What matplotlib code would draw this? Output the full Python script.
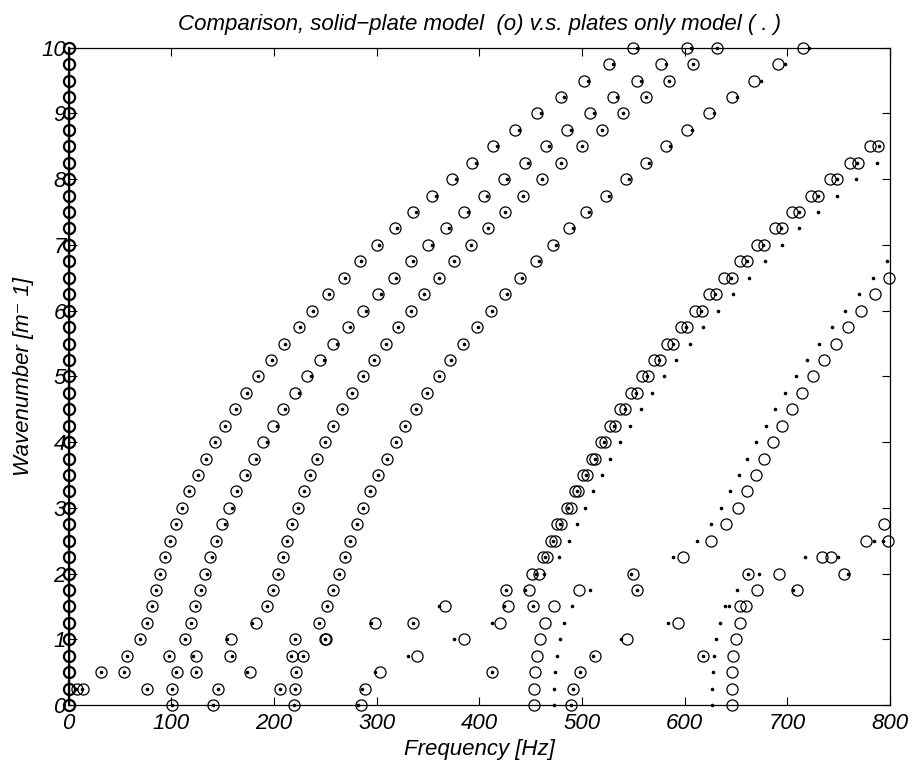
import numpy as np
import matplotlib
matplotlib.use("Agg")
import matplotlib.pyplot as plt

plt.rcParams['font.family'] = ['Liberation Sans', 'DejaVu Sans']
plt.rcParams['font.style'] = 'italic'

# wavenumber grid [1/m], 0 .. 10 in steps of 0.25
k_grid = np.linspace(0, 10, 41)
k_main = k_grid[6:]      # 1.5 .. 10
k_E = k_grid[9:35]       # 2.25 .. 8.5
k_E_out = k_grid[9:34]   # 2.25 .. 8.25
k_F = k_grid[9:27]       # 2.25 .. 6.5
k_F_dot = k_grid[9:28]   # 2.25 .. 6.75

# branch A (lowest) -- solid-plate (o) and plates-only (.)
A_circ = [81.1, 84.9, 88.8, 93.5, 98.8, 104.4, 110.5, 117.3, 125.8, 133.9,
          142.4, 152.1, 162.5, 172.9, 184.5, 197.2, 209.9, 224.2, 237.4, 253.0,
          268.3, 283.9, 300.1, 318.0, 335.8, 354.3, 373.5, 393.3, 413.7, 434.8,
          456.5, 479.3, 502.0, 526.3, 550.0]
A_dot = [81.1, 84.9, 88.8, 93.5, 98.8, 104.4, 110.5, 117.6, 126.1, 134.2,
         142.8, 152.5, 163.0, 173.4, 185.0, 197.8, 210.6, 225.0, 238.3, 254.0,
         269.4, 285.2, 301.9, 320.3, 338.6, 357.4, 377.0, 396.8, 417.6, 438.7,
         460.4, 482.8, 506.2, 530.5, 554.0]

# branch B
B_circ = [123.5, 128.1, 132.5, 137.8, 143.6, 149.5, 156.0, 163.4, 171.9, 180.3,
          189.7, 199.5, 209.2, 220.9, 232.5, 245.2, 257.9, 272.5, 286.5, 301.1,
          317.3, 333.2, 350.4, 367.5, 385.4, 404.5, 424.4, 444.5, 464.7, 485.1,
          507.8, 530.5, 553.9, 576.7, 602.0]
B_dot = [124.5, 129.5, 134.4, 139.5, 144.8, 152.0, 159.5, 164.4, 174.2, 182.6,
         193.0, 202.7, 210.8, 224.1, 235.8, 248.8, 261.1, 274.2, 289.5, 304.0,
         319.0, 335.8, 353.5, 370.8, 388.8, 408.0, 427.2, 447.8, 468.2, 489.0,
         511.7, 533.8, 557.8, 581.5, 606.0]

# branch C (both models coincide)
C_circ = [193.0, 199.0, 204.0, 208.6, 213.1, 217.9, 223.2, 229.0, 235.5, 241.7,
          250.1, 257.9, 266.6, 276.1, 286.5, 297.5, 308.9, 320.9, 333.5, 346.5,
          361.1, 375.8, 391.7, 408.8, 425.4, 442.5, 460.8, 479.3, 499.8, 519.8,
          540.0, 562.1, 584.5, 608.4, 631.8]

# branch D
D_circ = [251.7, 257.8, 263.3, 269.0, 274.1, 280.9, 287.1, 293.9, 301.7, 310.2,
          318.9, 328.0, 338.1, 348.8, 360.5, 371.6, 384.2, 397.5, 411.1, 425.4,
          439.7, 455.5, 472.1, 487.7, 503.6, 523.4, 542.6, 562.1, 582.1, 602.6,
          624.0, 645.8, 667.5, 691.2, 715.0]
D_dot = [251.7, 257.8, 263.3, 269.0, 274.1, 280.9, 287.1, 293.9, 301.7, 310.2,
         318.9, 328.0, 338.1, 348.8, 360.5, 372.3, 385.5, 399.0, 412.8, 427.4,
         442.0, 457.8, 474.6, 491.3, 507.0, 526.6, 545.8, 565.3, 585.7, 606.9,
         628.9, 651.3, 674.1, 697.7, 721.4]

# branch E (split pair of solid-plate modes)
E_circ1 = [462.5, 469.9, 476.0, 485.4, 493.5, 501.3, 509.8, 518.2, 527.3, 537.0,
           547.8, 558.5, 570.2, 582.8, 596.2, 610.1, 623.4, 638.6, 653.9, 670.2,
           688.0, 704.2, 722.7, 741.5, 761.0, 780.5]
E_circ2 = [465.7, 474.1, 479.9, 489.0, 496.2, 504.6, 513.0, 522.1, 531.9, 542.2,
           553.3, 564.3, 576.0, 589.0, 602.3, 616.9, 630.5, 645.8, 661.0, 677.3,
           694.5, 711.7, 730.2, 748.7, 768.5, 788.6]
E_dot_in = [464.5, 472.0, 478.6, 486.7, 495.5, 504.0, 512.5, 521.5, 531.5, 541.5,
            552.5, 563.5, 575.5, 588.5, 601.8, 616.4, 630.0, 645.3, 660.5, 676.8,
            694.0, 711.2, 729.7, 748.2, 768.0, 789.6]
E_dot_out = [477.8, 487.4, 495.2, 502.7, 510.5, 519.2, 527.6, 537.0, 546.5, 557.2,
             568.2, 579.6, 591.9, 604.9, 618.2, 632.2, 647.1, 662.4, 678.3, 695.1,
             711.4, 729.6, 748.0, 766.9, 787.0]

# branch F
F_circ = [598.7, 625.7, 640.3, 651.7, 660.4, 669.2, 677.3, 685.8, 695.1, 704.5,
          714.6, 724.7, 735.7, 747.1, 759.4, 771.7, 785.1, 799.0]
F_dot = [589.0, 611.7, 625.4, 635.4, 644.2, 652.6, 661.0, 669.8, 679.0, 688.0,
         698.0, 708.5, 719.5, 730.9, 743.2, 755.8, 769.5, 783.1, 797.4]

# remaining low-wavenumber modes, per wavenumber row
extra_circ = [
    (0.00, [100.5, 140.7, 219.9, 284.5, 453.3, 489.0, 646.1]),
    (0.25, [8.0, 13.8, 76.8, 101.1, 145.3, 205.6, 220.6, 289.0, 453.3, 491.0, 646.1]),
    (0.50, [31.3, 54.0, 105.7, 123.9, 177.0, 221.5, 303.6, 412.1, 454.6, 497.8, 646.5]),
    (0.75, [56.6, 97.5, 124.2, 157.3, 218.0, 228.7, 339.4, 456.0, 513.0, 617.9, 647.4]),
    (1.00, [70.0, 113.1, 157.9, 220.9, 249.3, 250.5, 385.1, 459.0, 543.6, 649.7]),
    (1.25, [76.4, 119.3, 182.6, 243.9, 298.8, 335.5, 420.2, 463.7, 593.5, 653.6]),
    (1.50, [366.9, 428.0, 452.3, 472.8, 653.9, 660.1]),
    (1.75, [426.3, 448.8, 497.1, 553.6, 670.8, 709.1]),
    (2.00, [451.6, 458.5, 550.0, 661.4, 691.6, 755.5]),
    (2.25, [733.8, 742.2]),
    (2.50, [776.6, 798.0]),
    (2.75, [794.1]),
]
extra_dot = [
    (0.00, [100.5, 140.7, 219.9, 282.2, 472.8, 489.0, 627.0]),
    (0.25, [7.0, 13.3, 76.8, 101.1, 145.3, 205.6, 220.6, 285.8, 472.8, 491.0, 627.0]),
    (0.50, [31.3, 54.0, 105.0, 123.9, 173.8, 221.5, 298.8, 412.1, 473.8, 497.8, 627.4]),
    (0.75, [56.6, 97.5, 120.9, 158.9, 216.4, 228.7, 330.3, 475.4, 510.5, 617.9, 628.3]),
    (1.00, [70.0, 113.1, 154.0, 220.9, 249.5, 375.1, 478.3, 537.7, 630.5]),
    (1.25, [76.4, 119.3, 179.0, 243.9, 294.6, 335.5, 412.4, 482.8, 584.1, 634.4]),
    (1.50, [360.8, 424.4, 452.3, 490.6, 639.6, 643.5]),
    (1.75, [426.3, 444.8, 508.1, 553.6, 651.3, 705.4]),
    (2.00, [455.0, 463.3, 547.8, 661.4, 672.4, 758.8]),
    (2.25, [717.2, 749.3]),
    (2.50, [784.1, 793.5]),
]

fig = plt.figure(figsize=(9.16, 7.7), dpi=100)
ax = fig.add_axes([0.0748, 0.0844, 0.8968, 0.8536])

circ_kw = dict(linestyle='none', marker='o', ms=8, mfc='none', mec='k', mew=0.9, clip_on=False)
dot_kw = dict(linestyle='none', marker='o', ms=2.6, mfc='k', mec='k', mew=0, clip_on=False)

# zero-frequency modes on the axis
ax.plot(np.zeros(len(k_grid)), k_grid, '-', color='k', lw=1.6, marker='o', ms=8,
        mfc='none', mec='k', mew=1.6, clip_on=False, zorder=3)

branches = [(k_main, A_circ, A_dot), (k_main, B_circ, B_dot),
            (k_main, C_circ, C_circ), (k_main, D_circ, D_dot)]
for kk, fc, fd in branches:
    ax.plot(fc, kk, **circ_kw)
    ax.plot(fd, kk, **dot_kw)

ax.plot(E_circ1, k_E, **circ_kw)
ax.plot(E_circ2, k_E, **circ_kw)
ax.plot(E_dot_in, k_E, **dot_kw)
ax.plot(E_dot_out, k_E_out, **dot_kw)
ax.plot(F_circ, k_F, **circ_kw)
ax.plot(F_dot, k_F_dot, **dot_kw)

for k, fs in extra_circ:
    ax.plot(fs, [k] * len(fs), **circ_kw)
for k, fs in extra_dot:
    ax.plot(fs, [k] * len(fs), **dot_kw)

ax.set_xlim(0, 800)
ax.set_ylim(0, 10)
ax.set_xticks(np.arange(0, 801, 100))
ax.set_yticks(np.arange(0, 11, 1))
ax.tick_params(direction='in', length=6, width=0.8, top=True, right=True,
               labelsize=16)
ax.tick_params(axis='x', pad=6)
ax.tick_params(axis='y', pad=2)
for s in ax.spines.values():
    s.set_linewidth(0.9)

ax.set_title('Comparison, solid\u2212plate model  (o) v.s. plates only model ( . )',
             fontsize=16, style='italic', pad=13)
ax.set_xlabel('Frequency [Hz]', fontsize=16, style='italic', labelpad=3)
ax.set_ylabel('Wavenumber [m\u207b 1]', fontsize=16, style='italic', labelpad=5)

fig.savefig('out.png', dpi=100)
